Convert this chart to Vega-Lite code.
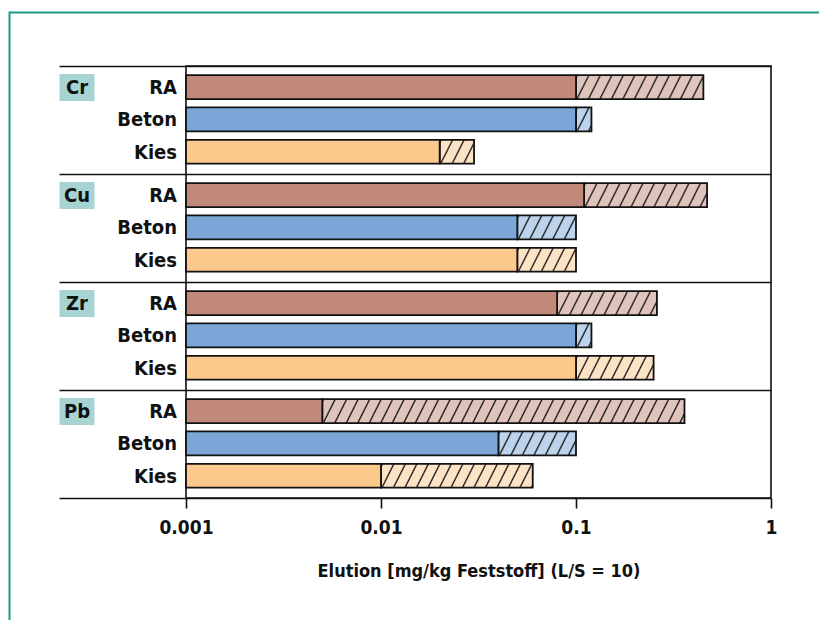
{
  "$schema": "https://vega.github.io/schema/vega-lite/v6.json",
  "width": 585,
  "height": 432,
  "autosize": "none",
  "padding": {"left": 186, "top": 66, "right": 48, "bottom": 122},
  "background": "white",
  "config": {
    "font": "'DejaVu Sans Condensed', 'Roboto Condensed', 'Liberation Sans Narrow', 'Liberation Sans', sans-serif",
    "view": {"stroke": "#111111", "strokeWidth": 1.6}
  },
  "params": [
    {
      "name": "hatchStops",
      "value": [
        {"offset": 0.0, "color": "rgba(17,17,17,0)"}, {"offset": 0.0025, "color": "#111111"}, {"offset": 0.005, "color": "rgba(17,17,17,0)"},
        {"offset": 0.02, "color": "rgba(17,17,17,0)"}, {"offset": 0.0225, "color": "#111111"}, {"offset": 0.025, "color": "rgba(17,17,17,0)"},
        {"offset": 0.04, "color": "rgba(17,17,17,0)"}, {"offset": 0.0425, "color": "#111111"}, {"offset": 0.045, "color": "rgba(17,17,17,0)"},
        {"offset": 0.06, "color": "rgba(17,17,17,0)"}, {"offset": 0.0625, "color": "#111111"}, {"offset": 0.065, "color": "rgba(17,17,17,0)"},
        {"offset": 0.08, "color": "rgba(17,17,17,0)"}, {"offset": 0.0825, "color": "#111111"}, {"offset": 0.085, "color": "rgba(17,17,17,0)"},
        {"offset": 0.10, "color": "rgba(17,17,17,0)"}, {"offset": 0.1025, "color": "#111111"}, {"offset": 0.105, "color": "rgba(17,17,17,0)"},
        {"offset": 0.12, "color": "rgba(17,17,17,0)"}, {"offset": 0.1225, "color": "#111111"}, {"offset": 0.125, "color": "rgba(17,17,17,0)"},
        {"offset": 0.14, "color": "rgba(17,17,17,0)"}, {"offset": 0.1425, "color": "#111111"}, {"offset": 0.145, "color": "rgba(17,17,17,0)"},
        {"offset": 0.16, "color": "rgba(17,17,17,0)"}, {"offset": 0.1625, "color": "#111111"}, {"offset": 0.165, "color": "rgba(17,17,17,0)"},
        {"offset": 0.18, "color": "rgba(17,17,17,0)"}, {"offset": 0.1825, "color": "#111111"}, {"offset": 0.185, "color": "rgba(17,17,17,0)"},
        {"offset": 0.20, "color": "rgba(17,17,17,0)"}, {"offset": 0.2025, "color": "#111111"}, {"offset": 0.205, "color": "rgba(17,17,17,0)"},
        {"offset": 0.22, "color": "rgba(17,17,17,0)"}, {"offset": 0.2225, "color": "#111111"}, {"offset": 0.225, "color": "rgba(17,17,17,0)"},
        {"offset": 0.24, "color": "rgba(17,17,17,0)"}, {"offset": 0.2425, "color": "#111111"}, {"offset": 0.245, "color": "rgba(17,17,17,0)"},
        {"offset": 0.26, "color": "rgba(17,17,17,0)"}, {"offset": 0.2625, "color": "#111111"}, {"offset": 0.265, "color": "rgba(17,17,17,0)"},
        {"offset": 0.28, "color": "rgba(17,17,17,0)"}, {"offset": 0.2825, "color": "#111111"}, {"offset": 0.285, "color": "rgba(17,17,17,0)"},
        {"offset": 0.30, "color": "rgba(17,17,17,0)"}, {"offset": 0.3025, "color": "#111111"}, {"offset": 0.305, "color": "rgba(17,17,17,0)"},
        {"offset": 0.32, "color": "rgba(17,17,17,0)"}, {"offset": 0.3225, "color": "#111111"}, {"offset": 0.325, "color": "rgba(17,17,17,0)"},
        {"offset": 0.34, "color": "rgba(17,17,17,0)"}, {"offset": 0.3425, "color": "#111111"}, {"offset": 0.345, "color": "rgba(17,17,17,0)"},
        {"offset": 0.36, "color": "rgba(17,17,17,0)"}, {"offset": 0.3625, "color": "#111111"}, {"offset": 0.365, "color": "rgba(17,17,17,0)"},
        {"offset": 0.38, "color": "rgba(17,17,17,0)"}, {"offset": 0.3825, "color": "#111111"}, {"offset": 0.385, "color": "rgba(17,17,17,0)"},
        {"offset": 0.40, "color": "rgba(17,17,17,0)"}, {"offset": 0.4025, "color": "#111111"}, {"offset": 0.405, "color": "rgba(17,17,17,0)"},
        {"offset": 0.42, "color": "rgba(17,17,17,0)"}, {"offset": 0.4225, "color": "#111111"}, {"offset": 0.425, "color": "rgba(17,17,17,0)"},
        {"offset": 0.44, "color": "rgba(17,17,17,0)"}, {"offset": 0.4425, "color": "#111111"}, {"offset": 0.445, "color": "rgba(17,17,17,0)"},
        {"offset": 0.46, "color": "rgba(17,17,17,0)"}, {"offset": 0.4625, "color": "#111111"}, {"offset": 0.465, "color": "rgba(17,17,17,0)"},
        {"offset": 0.48, "color": "rgba(17,17,17,0)"}, {"offset": 0.4825, "color": "#111111"}, {"offset": 0.485, "color": "rgba(17,17,17,0)"},
        {"offset": 0.50, "color": "rgba(17,17,17,0)"}, {"offset": 0.5025, "color": "#111111"}, {"offset": 0.505, "color": "rgba(17,17,17,0)"},
        {"offset": 0.52, "color": "rgba(17,17,17,0)"}, {"offset": 0.5225, "color": "#111111"}, {"offset": 0.525, "color": "rgba(17,17,17,0)"},
        {"offset": 0.54, "color": "rgba(17,17,17,0)"}, {"offset": 0.5425, "color": "#111111"}, {"offset": 0.545, "color": "rgba(17,17,17,0)"},
        {"offset": 0.56, "color": "rgba(17,17,17,0)"}, {"offset": 0.5625, "color": "#111111"}, {"offset": 0.565, "color": "rgba(17,17,17,0)"},
        {"offset": 0.58, "color": "rgba(17,17,17,0)"}, {"offset": 0.5825, "color": "#111111"}, {"offset": 0.585, "color": "rgba(17,17,17,0)"},
        {"offset": 0.60, "color": "rgba(17,17,17,0)"}, {"offset": 0.6025, "color": "#111111"}, {"offset": 0.605, "color": "rgba(17,17,17,0)"},
        {"offset": 0.62, "color": "rgba(17,17,17,0)"}, {"offset": 0.6225, "color": "#111111"}, {"offset": 0.625, "color": "rgba(17,17,17,0)"},
        {"offset": 0.64, "color": "rgba(17,17,17,0)"}, {"offset": 0.6425, "color": "#111111"}, {"offset": 0.645, "color": "rgba(17,17,17,0)"},
        {"offset": 0.66, "color": "rgba(17,17,17,0)"}, {"offset": 0.6625, "color": "#111111"}, {"offset": 0.665, "color": "rgba(17,17,17,0)"},
        {"offset": 0.68, "color": "rgba(17,17,17,0)"}, {"offset": 0.6825, "color": "#111111"}, {"offset": 0.685, "color": "rgba(17,17,17,0)"},
        {"offset": 0.70, "color": "rgba(17,17,17,0)"}, {"offset": 0.7025, "color": "#111111"}, {"offset": 0.705, "color": "rgba(17,17,17,0)"},
        {"offset": 0.72, "color": "rgba(17,17,17,0)"}, {"offset": 0.7225, "color": "#111111"}, {"offset": 0.725, "color": "rgba(17,17,17,0)"},
        {"offset": 0.74, "color": "rgba(17,17,17,0)"}, {"offset": 0.7425, "color": "#111111"}, {"offset": 0.745, "color": "rgba(17,17,17,0)"},
        {"offset": 0.76, "color": "rgba(17,17,17,0)"}, {"offset": 0.7625, "color": "#111111"}, {"offset": 0.765, "color": "rgba(17,17,17,0)"},
        {"offset": 0.78, "color": "rgba(17,17,17,0)"}, {"offset": 0.7825, "color": "#111111"}, {"offset": 0.785, "color": "rgba(17,17,17,0)"},
        {"offset": 0.80, "color": "rgba(17,17,17,0)"}, {"offset": 0.8025, "color": "#111111"}, {"offset": 0.805, "color": "rgba(17,17,17,0)"},
        {"offset": 0.82, "color": "rgba(17,17,17,0)"}, {"offset": 0.8225, "color": "#111111"}, {"offset": 0.825, "color": "rgba(17,17,17,0)"},
        {"offset": 0.84, "color": "rgba(17,17,17,0)"}, {"offset": 0.8425, "color": "#111111"}, {"offset": 0.845, "color": "rgba(17,17,17,0)"},
        {"offset": 0.86, "color": "rgba(17,17,17,0)"}, {"offset": 0.8625, "color": "#111111"}, {"offset": 0.865, "color": "rgba(17,17,17,0)"},
        {"offset": 0.88, "color": "rgba(17,17,17,0)"}, {"offset": 0.8825, "color": "#111111"}, {"offset": 0.885, "color": "rgba(17,17,17,0)"},
        {"offset": 0.90, "color": "rgba(17,17,17,0)"}, {"offset": 0.9025, "color": "#111111"}, {"offset": 0.905, "color": "rgba(17,17,17,0)"},
        {"offset": 0.92, "color": "rgba(17,17,17,0)"}, {"offset": 0.9225, "color": "#111111"}, {"offset": 0.925, "color": "rgba(17,17,17,0)"},
        {"offset": 0.94, "color": "rgba(17,17,17,0)"}, {"offset": 0.9425, "color": "#111111"}, {"offset": 0.945, "color": "rgba(17,17,17,0)"},
        {"offset": 0.96, "color": "rgba(17,17,17,0)"}, {"offset": 0.9625, "color": "#111111"}, {"offset": 0.965, "color": "rgba(17,17,17,0)"},
        {"offset": 0.98, "color": "rgba(17,17,17,0)"}, {"offset": 0.9825, "color": "#111111"}, {"offset": 0.985, "color": "rgba(17,17,17,0)"},
        {"offset": 1.0, "color": "rgba(17,17,17,0)"}
      ]
    }
  ],
  "data": {
    "values": [
      {"element": "Cr", "material": "RA", "solid": 0.1, "total": 0.45},
      {"element": "Cr", "material": "Beton", "solid": 0.1, "total": 0.12},
      {"element": "Cr", "material": "Kies", "solid": 0.02, "total": 0.03},
      {"element": "Cu", "material": "RA", "solid": 0.11, "total": 0.47},
      {"element": "Cu", "material": "Beton", "solid": 0.05, "total": 0.1},
      {"element": "Cu", "material": "Kies", "solid": 0.05, "total": 0.1},
      {"element": "Zr", "material": "RA", "solid": 0.08, "total": 0.26},
      {"element": "Zr", "material": "Beton", "solid": 0.1, "total": 0.12},
      {"element": "Zr", "material": "Kies", "solid": 0.1, "total": 0.25},
      {"element": "Pb", "material": "RA", "solid": 0.005, "total": 0.36},
      {"element": "Pb", "material": "Beton", "solid": 0.04, "total": 0.1},
      {"element": "Pb", "material": "Kies", "solid": 0.01, "total": 0.06}
    ]
  },
  "layer": [
    {
      "mark": {"type": "bar", "fillOpacity": 0.5},
      "encoding": {
        "y": {
          "field": "element", "type": "nominal", "sort": null,
          "scale": {"paddingInner": 0, "paddingOuter": 0},
          "axis": {
            "orient": "left", "title": null, "labels": false, "domain": false,
            "ticks": true, "tickBand": "extent", "tickSize": 127, "tickWidth": 1.6, "tickColor": "#111111",
            "grid": true, "gridColor": "#111111", "gridWidth": 1.4, "gridOpacity": 1
          }
        },
        "yOffset": {
          "field": "material", "type": "nominal", "sort": null,
          "scale": {"paddingInner": 0.26, "paddingOuter": 0.3, "align": 0.47}
        },
        "x": {
          "field": "solid", "type": "quantitative",
          "scale": {"type": "log", "domain": [0.001, 1]},
          "axis": {
            "orient": "bottom", "values": [0.001, 0.01, 0.1, 1], "format": "~g",
            "domain": false, "grid": false, "ticks": true, "tickSize": 10, "tickWidth": 1.6, "tickColor": "#111111",
            "labelFontSize": 19, "labelFontWeight": "bold", "labelColor": "#111111", "labelPadding": 10,
            "labelFlush": false, "labelOverlap": false, "labelBound": false,
            "title": "Elution [mg/kg Feststoff] (L/S = 10)",
            "titleFontSize": 18, "titleFontWeight": "bold", "titleColor": "#111111", "titlePadding": 25
          }
        },
        "x2": {"field": "total"},
        "fill": {
          "field": "material", "type": "nominal", "sort": null,
          "scale": {"domain": ["RA", "Beton", "Kies"], "range": ["#c0897a", "#7ba7d8", "#fcc88b"]},
          "legend": null
        }
      }
    },
    {
      "mark": {
        "type": "bar",
        "stroke": "#111111",
        "strokeWidth": 1.8,
        "fill": {"expr": "{gradient: 'linear', x1: 0, y1: 0, x2: 575 * (scale('x', datum.total) - scale('x', datum.solid)) / ((scale('x', datum.total) - scale('x', datum.solid)) * (scale('x', datum.total) - scale('x', datum.solid)) + 144), y2: 6900 / ((scale('x', datum.total) - scale('x', datum.solid)) * (scale('x', datum.total) - scale('x', datum.solid)) + 144), stops: hatchStops}"}
      },
      "encoding": {
        "y": {
          "field": "element", "type": "nominal", "sort": null,
          "axis": {
            "orient": "left", "title": null, "domain": false, "grid": false,
            "offset": 92, "ticks": true, "tickSize": 35, "tickWidth": 27, "tickCap": "butt",
            "tickColor": "#a7d4d2", "tickOffset": -33,
            "labelAlign": "center", "labelBaseline": "middle", "labelPadding": -17.5,
            "labelFontSize": 20, "labelFontWeight": "bold", "labelColor": "#111111",
            "labelBound": false, "labelOverlap": false
          }
        },
        "yOffset": {"field": "material", "type": "nominal", "sort": null},
        "x": {
          "field": "solid", "type": "quantitative",
          "axis": {
            "orient": "top", "title": null, "labels": false, "domain": false, "grid": false,
            "values": [0.001], "tickOffset": -177, "offset": -564, "ticks": true,
            "tickSize": 619, "tickWidth": 2, "tickColor": "#1a9a8a"
          }
        },
        "x2": {"field": "total"}
      }
    },
    {
      "mark": {"type": "bar", "stroke": "#111111", "strokeWidth": 1.8},
      "encoding": {
        "y": {
          "field": "element", "type": "nominal", "sort": null,
          "axis": {
            "orient": "left", "title": null, "labels": false, "domain": false, "grid": false,
            "values": ["Cr"], "tickOffset": -107.7, "offset": -645, "ticks": true,
            "tickSize": 822, "tickWidth": 2, "tickColor": "#1a9a8a"
          }
        },
        "yOffset": {"field": "material", "type": "nominal", "sort": null},
        "x": {"field": "solid", "type": "quantitative", "axis": null},
        "x2": {"datum": 0.001},
        "fill": {"field": "material", "type": "nominal", "sort": null, "legend": null}
      }
    },
    {
      "mark": {
        "type": "text", "align": "right", "baseline": "middle", "dx": -9, "dy": 1,
        "fontSize": 20, "fontWeight": "bold", "color": "#111111"
      },
      "encoding": {
        "y": {"field": "element", "type": "nominal", "sort": null, "axis": null},
        "yOffset": {"field": "material", "type": "nominal", "sort": null},
        "x": {"datum": 0.001, "type": "quantitative", "axis": null},
        "text": {"field": "material", "type": "nominal"}
      }
    }
  ],
  "resolve": {"axis": {"x": "independent", "y": "independent"}}
}
